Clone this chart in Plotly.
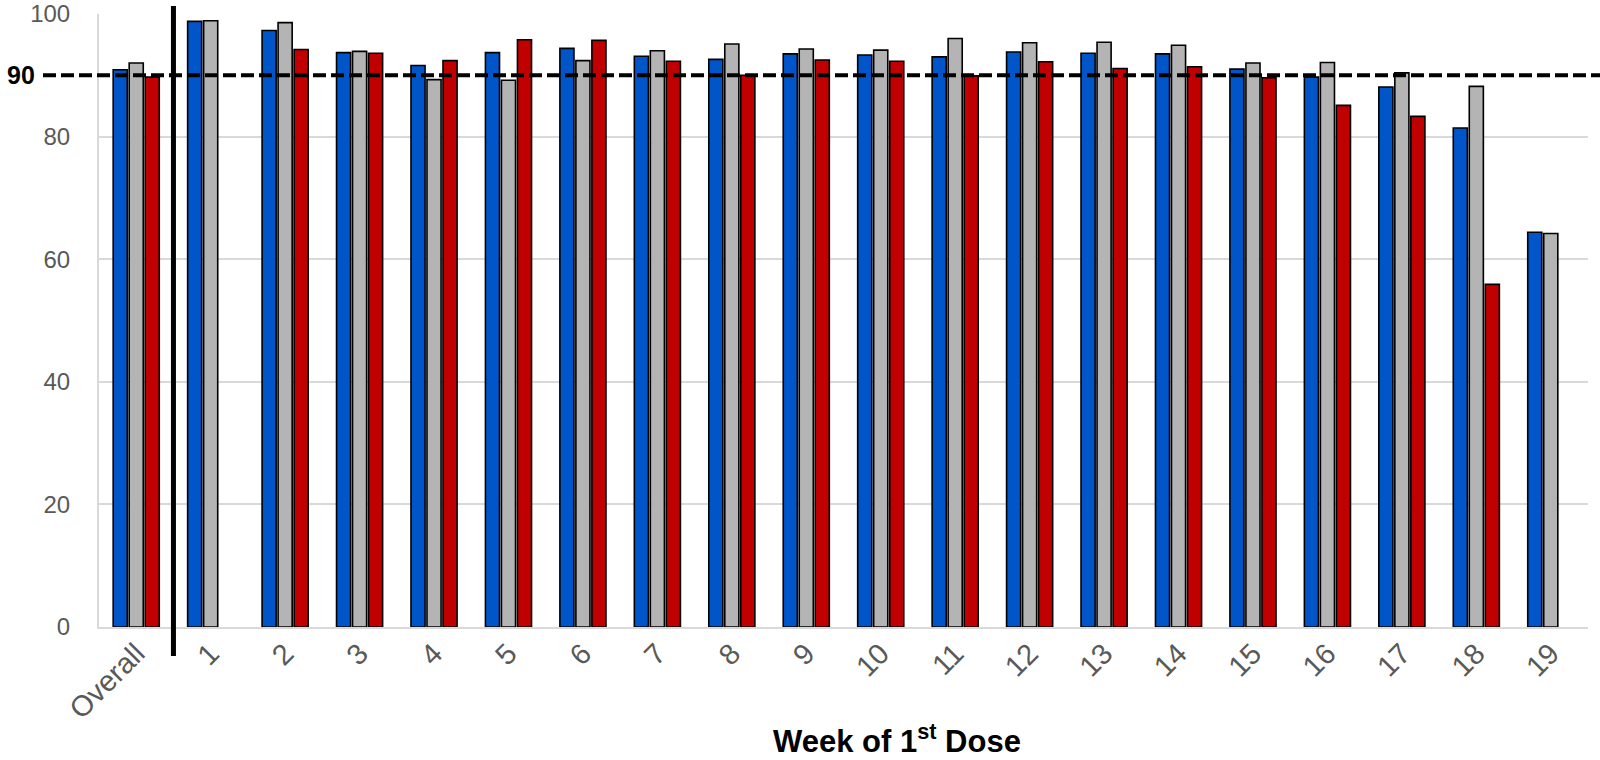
import plotly.graph_objects as go

categories = ["Overall", "1", "2", "3", "4", "5", "6", "7", "8", "9", "10",
              "11", "12", "13", "14", "15", "16", "17", "18", "19"]
blue_values = [90.9, 98.8, 97.3, 93.7, 91.6, 93.7, 94.4, 93.1, 92.6, 93.5, 93.3,
               93.0, 93.8, 93.6, 93.5, 91.0, 89.7, 88.1, 81.4, 64.4]
gray_values = [92.0, 98.9, 98.6, 93.9, 89.3, 89.2, 92.4, 94.0, 95.1, 94.3, 94.1,
               96.0, 95.3, 95.4, 94.9, 92.0, 92.1, 90.4, 88.2, 64.2]
red_values = [89.7, None, 94.2, 93.6, 92.4, 95.8, 95.7, 92.3, 90.0, 92.5, 92.3,
              89.9, 92.2, 91.1, 91.4, 89.6, 85.1, 83.3, 55.9, None]
y_ticks = [0, 20, 40, 60, 80, 100]
threshold = 90

W, H = 1600, 760
ML, MR, MT, MB = 99, 12, 14, 133
pw = W - ML - MR
ph = H - MT - MB

def px_x(p):
    return (p - ML) / pw

def px_y(p):
    return (H - MB - p) / ph

fig = go.Figure()
for name, vals, col in [("Series 1", blue_values, "#0055C8"),
                        ("Series 2", gray_values, "#B4B4B4"),
                        ("Series 3", red_values, "#C00000")]:
    fig.add_trace(go.Bar(x=categories, y=vals, name=name,
                         marker=dict(color=col, line=dict(color="black", width=1.6))))

fig.update_layout(
    width=W, height=H,
    margin=dict(l=ML, r=MR, t=MT, b=MB, autoexpand=False),
    paper_bgcolor="white", plot_bgcolor="white",
    barmode="group", bargap=0.355, bargroupgap=0.12,
    showlegend=False,
    font=dict(family="Liberation Sans, Arial, sans-serif"),
)
fig.update_xaxes(
    type="category", range=[-0.5, len(categories) - 0.5],
    tickangle=-45, tickfont=dict(size=29, color="#595959"),
    showline=True, linecolor="#D9D9D9", linewidth=2,
    showgrid=False, ticks="", ticklabelstandoff=-4, automargin=False,
)
fig.update_yaxes(
    range=[0, 100], tickvals=y_ticks,
    tickfont=dict(size=24, color="#595959"),
    showgrid=True, gridcolor="#D9D9D9", gridwidth=2,
    showline=True, linecolor="#D9D9D9", linewidth=2,
    zeroline=False, ticks="", ticklabelstandoff=22, automargin=False,
)

# threshold dashed line
thr_y = threshold / 100
fig.add_shape(type="line", xref="paper", yref="paper",
              x0=px_x(43), x1=px_x(1600), y0=thr_y, y1=thr_y,
              line=dict(color="black", width=4, dash="13px,5px"), layer="above")
fig.add_annotation(text="<b>90</b>", xref="paper", yref="paper",
                   x=px_x(21), y=thr_y, xanchor="center", yanchor="middle",
                   showarrow=False, font=dict(size=25, color="black"))

# separator between Overall and weeks
sep_x = px_x(ML + pw * (0.5 + 0.5) / len(categories))
fig.add_shape(type="line", xref="paper", yref="paper",
              x0=sep_x, x1=sep_x, y0=px_y(656), y1=px_y(6),
              line=dict(color="black", width=5), layer="above")

fig.add_annotation(text="<b>Week of 1<sup>st</sup> Dose</b>", xref="paper", yref="paper",
                   x=px_x(897), y=px_y(739), xanchor="center", yanchor="middle",
                   showarrow=False, font=dict(size=31, color="black"))

fig.write_html("out.html", config={"displayModeBar": False},
               post_script="document.body.style.margin='0';")
